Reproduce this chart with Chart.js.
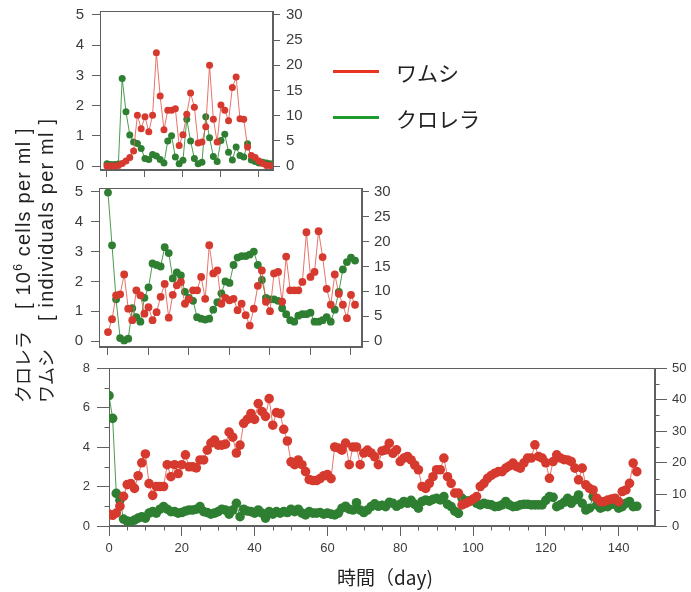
<!DOCTYPE html>
<html>
<head>
<meta charset="utf-8">
<script src="https://cdn.jsdelivr.net/npm/chart.js@4.4.0/dist/chart.umd.min.js"></script>
<style>
html,body{margin:0;padding:0;background:#fff;}
#wrap{position:relative;width:691px;height:592px;overflow:hidden;}
canvas{position:absolute;left:0;top:0;}
.t{position:absolute;white-space:pre;color:#222;font-family:"Liberation Sans","Noto Sans CJK JP",sans-serif;}
.rot{transform:rotate(-90deg);transform-origin:0 0;}
.leg{position:absolute;height:3px;width:46px;}
.lat{font-size:20px;letter-spacing:1.2px;}
</style>
</head>
<body>
<div id="wrap">
<canvas id="c1" width="691" height="592"></canvas>
<canvas id="c2" width="691" height="592"></canvas>
<canvas id="c3" width="691" height="592"></canvas>

<div class="leg" style="left:333px;top:70px;background:#e8351f;"></div>
<div class="t" style="left:396px;top:59px;font-size:21px;line-height:26px;font-family:'Noto Sans CJK JP';">ワムシ</div>
<div class="leg" style="left:333px;top:116px;background:#1f9a2e;"></div>
<div class="t" style="left:396px;top:105px;font-size:21px;line-height:26px;font-family:'Noto Sans CJK JP';">クロレラ</div>

<div class="t rot" style="left:6px;top:403px;font-size:18px;line-height:24px;"><span style="font-family:'Noto Sans CJK JP'">クロレラ</span><span style="display:inline-block;width:22px"></span><span class="lat">[ 10<sup style="font-size:12px">6</sup> cells per ml ]</span></div>
<div class="t rot" style="left:33px;top:403px;font-size:18px;line-height:24px;"><span style="font-family:'Noto Sans CJK JP'">ワムシ</span><span style="display:inline-block;width:28px"></span><span class="lat">[ individuals per ml ]</span></div>

<div class="t" style="left:385px;top:564px;transform:translateX(-50%);font-size:19px;line-height:26px;font-family:'Noto Sans CJK JP';">時間（day)</div>
</div>

<script>
// ---------- data ----------
// Panel 1 (top): days 0..43
const P1_DAY_TICKS = [0, 10, 20, 30, 40];
const P1_LEFT_TICKS = [0, 1, 2, 3, 4, 5];
const P1_RIGHT_TICKS = [0, 5, 10, 15, 20, 25, 30];
const p1Rotifer = [0,0,0,0.1,0.5,1,1.7,3,10.1,7.4,9.8,6.8,10.1,22.5,13.9,7.2,11.1,11.1,11.4,4.1,6.2,10.3,14.5,11.7,4.6,4.8,7.8,20.0,9.3,4.8,12.1,11.1,9.0,15.6,17.7,9.4,9.3,3.8,2.1,1.7,1.0,0.5,0.1,0.1];
const p1Chlorella = [0.08,0.05,0.05,0.07,2.9,1.8,1.03,0.8,0.75,0.58,0.25,0.22,0.38,0.33,0.22,0.1,0.83,1.0,0.3,0.08,0.19,1.55,0.83,0.25,0.08,0.13,1.63,0.94,0.32,0.15,0.85,1.05,0.46,0.2,0.63,0.35,0.3,0.74,0.2,0.15,0.1,0.13,0.1,0.08];

// Panel 2 (middle): days 0..61
const P2_DAY_TICKS = [0, 10, 20, 30, 40, 50, 60];
const P2_LEFT_TICKS = [0, 1, 2, 3, 4, 5];
const P2_RIGHT_TICKS = [0, 5, 10, 15, 20, 25, 30];
const p2Rotifer = [1.8,4.4,9.2,9.4,13.4,6.5,4.2,10.2,9.2,5.5,6.8,4.2,5.8,8.9,11.5,4.7,9.3,11.2,11.9,7.5,8.4,10.2,10.2,12.9,8.5,19.3,13.6,14.2,7.5,8.7,8.2,8.5,6.2,7.5,5.2,3.1,6.5,11.1,14.2,7.9,6.0,13.6,13.9,7.9,17.0,10.2,10.2,10.2,11.9,21.9,12.9,13.9,22.1,16.9,10.5,7.3,13.4,9.5,7.3,4.6,9.3,7.3];
const p2Chlorella = [4.98,3.21,1.4,0.1,0.02,0.08,1.1,0.8,0.65,1.45,1.8,2.6,2.55,2.5,3.15,2.95,2.1,2.3,2.2,1.65,1.45,1.35,0.8,0.75,0.72,0.75,1.05,1.3,1.6,2.0,1.95,2.55,2.8,2.85,2.85,2.9,3.0,2.55,2.05,1.45,1.4,1.4,1.35,1.1,0.9,0.7,0.65,0.85,0.9,0.9,0.95,0.65,0.65,0.7,0.8,0.65,1.05,1.65,2.4,2.65,2.8,2.7];

// Panel 3 (bottom): days 0..145
const P3_DAY_TICKS = [0, 20, 40, 60, 80, 100, 120, 140];
const P3_DAY_MINOR = [5,10,15,25,30,35,45,50,55,65,70,75,85,90,95,105,110,115,125,130,135,145];
const P3_LEFT_TICKS = [0, 2, 4, 6, 8];
const P3_LEFT_MINOR = [1, 3, 5, 7];
const P3_RIGHT_TICKS = [0, 10, 20, 30, 40, 50];
const P3_RIGHT_MINOR = [5, 15, 25, 35, 45];
const p3Rotifer = [3.75,3.4,4.1,6.25,9.4,13.1,13.4,11.9,15.9,20,22.8,13.4,9.7,12.5,12.5,12.5,19.4,15.6,19.4,16.6,19.4,22.5,18.75,18.75,18.4,20.9,20.9,24,26.25,27.2,25.6,25.6,25.9,29.7,28.1,23.1,25.6,32.5,33.75,35.6,33.75,38.75,36.25,34.7,40.3,31.9,35.9,35.6,30.6,26.9,20.3,19.4,20.9,19.4,17.2,14.7,14.4,14.4,15,15.9,16.25,15,25,24.7,24,26.25,19.4,25,25,19.4,23.1,24,23.1,21.9,19.4,23.75,
  24.1,26.2,23,24.1,20.4,21.5,22,20.9,19.3,17.8,12.5,11.9,13.5,15.6,17.8,17.8,21.5,15.6,13.5,10.4,10.4,6.7,7.2,7.7,8.5,9.3,12.5,13.5,15.1,16,16.7,17.2,17.2,18.3,19,19.9,18.8,18.3,20,21.5,21.5,25.7,22,21.5,20,15.1,20.4,22.5,21.5,21,20.9,20.4,18.3,14.6,18.3,13,11.9,11.4,8.8,7.7,7.7,8.2,8.5,8.8,7.7,10.9,11.4,13.5,19.9,17.2];
const p3Chlorella = [6.6,5.45,1.65,1.3,0.35,0.25,0.22,0.3,0.4,0.47,0.4,0.65,0.73,0.65,0.85,0.98,0.85,0.73,0.73,0.65,0.68,0.76,0.81,0.81,0.85,0.98,0.73,0.68,0.6,0.65,0.73,0.85,0.81,0.6,0.81,1.15,0.47,0.85,0.76,0.73,0.65,0.81,0.65,0.4,0.73,0.6,0.73,0.65,0.73,0.68,0.85,0.73,0.85,0.65,0.56,0.73,0.65,0.65,0.68,0.6,0.65,0.6,0.56,0.65,0.9,1.0,0.85,0.81,1.18,0.81,0.68,0.81,0.98,1.12,1.0,1.05,
  0.98,1.2,1.15,1.0,1.1,1.24,1.15,1.3,1.1,0.9,1.24,1.32,1.26,1.35,1.4,1.32,1.49,1.1,0.98,0.75,0.64,1.4,1.26,1.28,1.3,1.15,1.07,1.15,1.1,1.07,0.98,1.0,1.07,1.24,1.07,0.98,1.0,1.07,1.1,1.1,1.07,1.07,1.07,1.07,1.3,1.49,1.45,0.98,1.07,1.2,1.4,1.15,1.32,1.57,1.15,0.81,0.9,1.49,1.07,0.9,0.98,0.98,1.1,1.1,0.9,0.98,1.15,1.24,0.98,1.0];

// ---------- styling ----------
const RED = '#d6392d';
const RED_LINE = 'rgba(226,92,80,0.85)';
const GREEN = '#2e7f31';
const GREEN_LINE = 'rgba(56,145,60,0.9)';
const AXIS = '#606060';
const LABEL = '#3c3c3c';
const FONT = "'Liberation Sans', Arial, sans-serif";

function toPoints(vals) { return vals.map((v, i) => ({ x: i, y: v })); }

const framePlugin = {
  id: 'frame',
  beforeDatasetsDraw(chart, args, opts) {
    const ctx = chart.ctx, a = chart.chartArea;
    ctx.save();
    ctx.strokeStyle = AXIS;
    ctx.lineWidth = 1;
    const L = Math.round(a.left) + 0.5, R = Math.round(a.right) - 0.5;
    const T = Math.round(a.top) + 0.5, B = Math.round(a.bottom) - 0.5;
    ctx.strokeRect(L, T, R - L, B - T);
    const m = opts.minor || {};
    const len = opts.minorLen || 5;
    ctx.beginPath();
    (m.x || []).forEach(v => { const px = Math.round(chart.scales.x.getPixelForValue(v)) + 0.5; ctx.moveTo(px, B); ctx.lineTo(px, B + len); });
    (m.yl || []).forEach(v => { const py = Math.round(chart.scales.yl.getPixelForValue(v)) + 0.5; ctx.moveTo(L, py); ctx.lineTo(L - len, py); });
    (m.yr || []).forEach(v => { const py = Math.round(chart.scales.yr.getPixelForValue(v)) + 0.5; ctx.moveTo(R, py); ctx.lineTo(R + len, py); });
    ctx.stroke();
    ctx.restore();
  }
};

function buildPanel(id, p) {
  const WL = 60, WR = 60, HB = 32;
  const setTicks = vals => s => { s.ticks = vals.map(v => ({ value: v })); };
  const fixW = s => { s.width = (s.position === 'left' ? WL : WR); s.paddingTop = 0; s.paddingBottom = 0; };
  const fixH = s => { s.height = HB; s.paddingLeft = 0; s.paddingRight = 0; };
  const font = { family: FONT, size: p.fontSize };
  const yAxis = (pos, cfg) => ({
    type: 'linear', position: pos, bounds: 'data', min: cfg.range[0], max: cfg.range[1],
    afterBuildTicks: setTicks(cfg.ticks), afterFit: fixW,
    ticks: { font, color: LABEL, padding: cfg.pad, autoSkip: false },
    grid: { drawOnChartArea: false, tickLength: cfg.len, color: AXIS },
    border: { color: AXIS }
  });
  return new Chart(document.getElementById(id), {
    type: 'line',
    data: { datasets: [
      { data: toPoints(p.rotifer), yAxisID: 'yr', borderColor: RED_LINE, backgroundColor: RED,
        pointBackgroundColor: RED, pointBorderColor: RED, pointBorderWidth: 0, pointRadius: p.r,
        borderWidth: 1, tension: 0 },
      { data: toPoints(p.chlorella), yAxisID: 'yl', borderColor: GREEN_LINE, backgroundColor: GREEN,
        pointBackgroundColor: GREEN, pointBorderColor: GREEN, pointBorderWidth: 0, pointRadius: p.r,
        borderWidth: 1, tension: 0 }
    ] },
    options: {
      responsive: false, animation: false, events: [],
      layout: { padding: { left: p.box.l - WL, right: 691 - p.box.r - WR, top: p.box.t, bottom: 592 - p.box.b - HB } },
      plugins: { legend: { display: false }, tooltip: { enabled: false },
                 frame: { minor: p.minor, minorLen: p.minorLen } },
      scales: {
        x: { type: 'linear', position: 'bottom', bounds: 'data', min: p.x.range[0], max: p.x.range[1],
             afterBuildTicks: setTicks(p.x.ticks), afterFit: fixH,
             ticks: { display: p.x.labels, font, color: LABEL, padding: p.x.pad, maxRotation: 0, autoSkip: false },
             grid: { drawOnChartArea: false, tickLength: p.x.len, color: AXIS },
             border: { color: AXIS } },
        yl: yAxis('left', p.yl),
        yr: yAxis('right', p.yr)
      }
    },
    plugins: [framePlugin]
  });
}

buildPanel('c1', {
  box: { l: 100, r: 273, t: 11, b: 170 },
  rotifer: p1Rotifer, chlorella: p1Chlorella, r: 3.5, fontSize: 15,
  x: { range: [-1.84, 43.7], ticks: P1_DAY_TICKS, labels: false, len: 7, pad: 4 },
  yl: { range: [-0.13, 5.13], ticks: P1_LEFT_TICKS, len: 8, pad: 8 },
  yr: { range: [-0.78, 30.78], ticks: P1_RIGHT_TICKS, len: 7, pad: 6 }
});

buildPanel('c2', {
  box: { l: 99, r: 362, t: 188, b: 347 },
  rotifer: p2Rotifer, chlorella: p2Chlorella, r: 3.9, fontSize: 15,
  x: { range: [-2.22, 62.72], ticks: P2_DAY_TICKS, labels: false, len: 8, pad: 4 },
  yl: { range: [-0.201, 5.134], ticks: P2_LEFT_TICKS, len: 8, pad: 8 },
  yr: { range: [-1.208, 30.805], ticks: P2_RIGHT_TICKS, len: 7, pad: 5 }
});

buildPanel('c3', {
  box: { l: 109, r: 655, t: 368, b: 526 },
  rotifer: p3Rotifer, chlorella: p3Chlorella, r: 4.8, fontSize: 13,
  x: { range: [0, 150], ticks: P3_DAY_TICKS, labels: true, len: 10, pad: 5 },
  yl: { range: [0, 8], ticks: P3_LEFT_TICKS, len: 12, pad: 7 },
  yr: { range: [0, 50], ticks: P3_RIGHT_TICKS, len: 12, pad: 5 },
  minor: { x: P3_DAY_MINOR, yl: P3_LEFT_MINOR, yr: P3_RIGHT_MINOR }, minorLen: 5
});
</script>
</body>
</html>
